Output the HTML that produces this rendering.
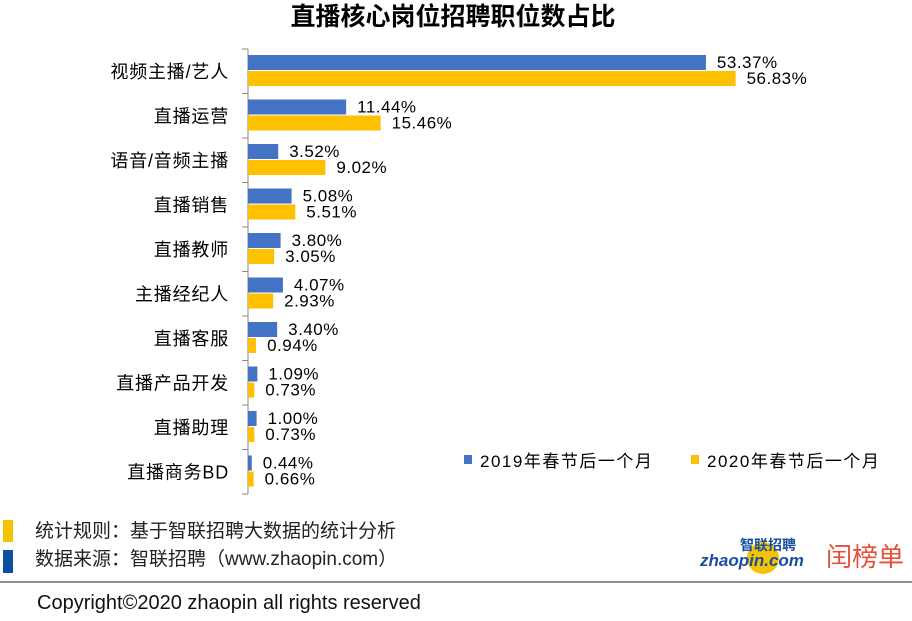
<!DOCTYPE html>
<html><head><meta charset="utf-8"><style>
body{margin:0;width:912px;height:616px;background:#fff;overflow:hidden;font-family:"Liberation Sans","Noto Sans CJK SC",sans-serif;}
</style></head><body>
<svg width="912" height="616" xmlns="http://www.w3.org/2000/svg" style="font-family:'Liberation Sans','Noto Sans CJK SC',sans-serif">
<text x="453" y="25" text-anchor="middle" font-size="25" font-weight="bold" fill="#000">直播核心岗位招聘职位数占比</text>
<line x1="248" y1="49" x2="248" y2="494" stroke="#888" stroke-width="1"/>
<g id="chart"></g>
<rect x="464" y="455" width="8" height="9" fill="#4472C4"/>
<text x="480" y="467" font-size="17" letter-spacing="1.5">2019年春节后一个月</text>
<rect x="691" y="455" width="8" height="9" fill="#FFC000"/>
<text x="707" y="467" font-size="17" letter-spacing="1.5">2020年春节后一个月</text>
<rect x="3" y="520" width="10" height="22" fill="#F5C400"/>
<rect x="3" y="550" width="10" height="23" fill="#0B4EA2"/>
<text x="35" y="537" font-size="19" fill="#222">统计规则：基于智联招聘大数据的统计分析</text>
<text x="35" y="565" font-size="19" fill="#222">数据来源：智联招聘（www.zhaopin.com）</text>
<circle cx="763" cy="558" r="16" fill="#F5C400"/>
<text x="700" y="566" font-size="17" font-weight="bold" font-style="italic" fill="#1a4fa0">zhaopin.com</text>
<text x="740" y="550" font-size="14" font-weight="bold" fill="#1a4fa0">智联招聘</text>
<text x="826" y="566" font-size="26" fill="#e5503a">闰榜单</text>
<line x1="0" y1="582" x2="912" y2="582" stroke="#222" stroke-width="1"/>
<text x="37" y="609" font-size="20" fill="#111">Copyright©2020 zhaopin all rights reserved</text>
</svg>
<script>
var d=[["视频主播/艺人",53.37,56.83],["直播运营",11.44,15.46],["语音/音频主播",3.52,9.02],["直播销售",5.08,5.51],["直播教师",3.80,3.05],["主播经纪人",4.07,2.93],["直播客服",3.40,0.94],["直播产品开发",1.09,0.73],["直播助理",1.00,0.73],["直播商务BD",0.44,0.66]];
var s="",k=8.58;
for(var i=0;i<=10;i++){var y=49+44.5*i;s+='<line x1="242" y1="'+y+'" x2="248" y2="'+y+'" stroke="#888"/>';}
d.forEach(function(r,i){var b=49+44.5*i;
var w1=r[1]*k,w2=r[2]*k;
s+='<rect x="248" y="'+(b+6)+'" width="'+w1+'" height="15" fill="#4472C4"/>';
s+='<rect x="248" y="'+(b+22)+'" width="'+w2+'" height="15" fill="#FFC000"/>';
s+='<text x="'+(253+w1+6)+'" y="'+(b+19)+'" font-size="17" letter-spacing="0.5">'+r[1].toFixed(2)+'%</text>';
s+='<text x="'+(253+w2+6)+'" y="'+(b+35)+'" font-size="17" letter-spacing="0.5">'+r[2].toFixed(2)+'%</text>';
s+='<text x="229" y="'+(b+29)+'" font-size="18" letter-spacing="0.8" text-anchor="end">'+r[0]+'</text>';
});
document.getElementById("chart").innerHTML=s;
</script>
</body></html>
